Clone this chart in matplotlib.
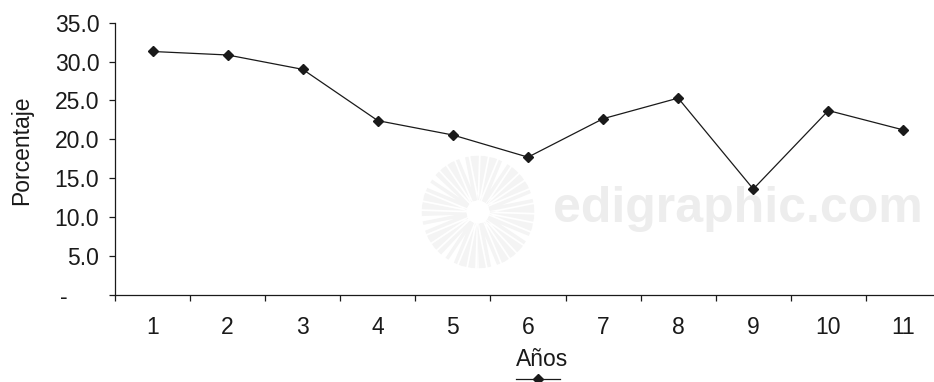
import matplotlib.pyplot as plt
from matplotlib.patches import Circle
from matplotlib.transforms import IdentityTransform

plt.rcParams["font.family"] = ["Liberation Sans", "DejaVu Sans"]

years = ["1", "2", "3", "4", "5", "6", "7", "8", "9", "10", "11"]
porcentaje = [31.3, 30.85, 29.0, 22.4, 20.55, 17.7, 22.65, 25.3, 13.6, 23.7, 21.2]
yticks = [0, 5, 10, 15, 20, 25, 30, 35]
ytick_labels = ["-     ", "5.0", "10.0", "15.0", "20.0", "25.0", "30.0", "35.0"]

fig = plt.figure(figsize=(9.34, 3.82), dpi=100)
ax = fig.add_axes([0.1231, 0.2285, 0.8844, 0.712])

# faint watermark behind the plot
fig.add_artist(Circle((478, 382 - 212), 34, transform=IdentityTransform(),
                      fill=False, lw=32, ec="#f4f4f4", ls=(0, (0.08, 0.04)),
                      zorder=-2))
fig.text(553 / 934, 1 - 222 / 382, "edigraphic.com", fontsize=36,
         weight="bold", color="#ededed", ha="left", va="baseline", zorder=-1)
ax.patch.set_alpha(0)

x = list(range(1, len(years) + 1))
(line,) = ax.plot(x, porcentaje, color="#1a1a1a", lw=0.9, marker="D",
                  ms=4.8, mfc="#1a1a1a", mec="#1a1a1a", clip_on=False)

ax.set_xlim(0.5, len(years) + 0.5)
ax.set_ylim(0, 35)

ax.spines["top"].set_visible(False)
ax.spines["right"].set_visible(False)
for s in ["left", "bottom"]:
    ax.spines[s].set_color("#1a1a1a")
    ax.spines[s].set_linewidth(0.9)

ax.set_yticks(yticks)
ax.set_yticklabels(ytick_labels)
ax.tick_params(axis="y", direction="out", length=4.3, width=0.9, pad=7,
               labelsize=16.5, colors="#1a1a1a")

ax.set_xticks([i + 0.5 for i in range(len(years) + 1)])
ax.set_xticklabels([])
ax.set_xticks(x, minor=True)
ax.set_xticklabels(years, minor=True)
ax.tick_params(axis="x", which="major", direction="out", length=4, width=0.9,
               colors="#1a1a1a")
ax.tick_params(axis="x", which="minor", length=0, pad=15, labelsize=16.5,
               labelcolor="#1a1a1a")

ax.set_xlabel("Años", fontsize=16.5, color="#1a1a1a")
ax.xaxis.set_label_coords(0.5166, -0.24)
ax.xaxis.label.set_va("center")
ax.set_ylabel("Porcentaje", fontsize=16.5, color="#1a1a1a")
ax.yaxis.set_label_coords(-0.113, 0.532)
ax.yaxis.label.set_va("center")

fig.legend(handles=[line], labels=[""], loc="center",
           bbox_to_anchor=(538 / 934, 1 - 381 / 382), frameon=False,
           handlelength=2.0, handletextpad=0, borderpad=0, borderaxespad=0,
           fontsize=16)

fig.savefig("out.png", dpi=100)
